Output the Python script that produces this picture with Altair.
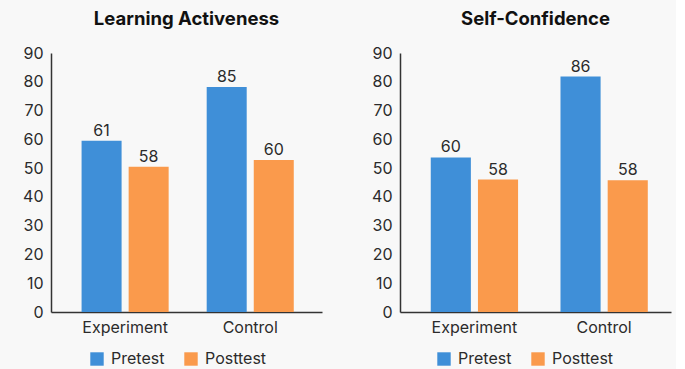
import altair as alt
import pandas as pd

groups = ["Experiment", "Control"]
series = ["Pretest", "Posttest"]
panel_titles = ["Learning Activeness", "Self-Confidence"]

# bar heights as read against the y axis
la_pretest = [59.5, 78.2]
la_posttest = [50.5, 52.8]
sc_pretest = [53.7, 81.8]
sc_posttest = [46.0, 45.8]

# value labels as printed above the bars
la_pretest_labels = ["61", "85"]
la_posttest_labels = ["58", "60"]
sc_pretest_labels = ["60", "86"]
sc_posttest_labels = ["58", "58"]

y_ticks = [0, 10, 20, 30, 40, 50, 60, 70, 80, 90]

BLUE = "#3f8fd8"
ORANGE = "#fa9a4c"
FONT = "Inter"
TXT = "#2b2b2b"


def make_df(pre, post, pre_lab, post_lab):
    rows = []
    for i, g in enumerate(groups):
        rows.append({"group": g, "series": "Pretest", "value": pre[i], "label": pre_lab[i]})
        rows.append({"group": g, "series": "Posttest", "value": post[i], "label": post_lab[i]})
    return pd.DataFrame(rows)


def panel(title, df, pi, po, align, legend_x):
    base = alt.Chart(df, title=alt.TitleParams(
        text=title, fontSize=18.5, fontWeight="bold", font=FONT, color="#111111",
        anchor="middle", offset=17)).encode(
        x=alt.X("group:N", sort=groups,
                scale=alt.Scale(paddingInner=pi, paddingOuter=po, align=align),
                axis=alt.Axis(title=None, labelAngle=0, ticks=False, labelPadding=7,
                              labelFontSize=16, labelFont=FONT, labelColor=TXT,
                              domainColor="#333333", domainWidth=1.5)),
        xOffset=alt.XOffset("series:N", sort=series,
                            scale=alt.Scale(paddingInner=0.15, paddingOuter=0)),
        y=alt.Y("value:Q", scale=alt.Scale(domain=[0, 90], nice=False),
                axis=alt.Axis(title=None, values=y_ticks, ticks=False, grid=False,
                              labelPadding=8, labelFontSize=16, labelFont=FONT,
                              labelColor=TXT, domainColor="#333333", domainWidth=1.5)),
    )
    bars = base.mark_bar().encode(
        color=alt.Color("series:N", sort=series,
                        scale=alt.Scale(domain=series, range=[BLUE, ORANGE]),
                        legend=alt.Legend(title=None, orient="none", direction="horizontal",
                                          legendX=legend_x, legendY=298,
                                          symbolType="square", symbolSize=180,
                                          symbolStrokeWidth=0, symbolOpacity=1,
                                          labelFontSize=16, labelFont=FONT, labelColor=TXT,
                                          columnPadding=18, labelOffset=6, padding=0))
    )
    labels = base.mark_text(baseline="alphabetic", dy=-5, fontSize=16, font=FONT,
                            color=TXT).encode(text="label:N")
    return alt.layer(bars, labels).properties(width=271, height=259)


left = panel(panel_titles[0],
             make_df(la_pretest, la_posttest, la_pretest_labels, la_posttest_labels),
             0.304, 0.235, 0.52, 38)
right = panel(panel_titles[1],
              make_df(sc_pretest, sc_posttest, sc_pretest_labels, sc_posttest_labels),
              0.327, 0.208, 0.57, 36)

chart = alt.hconcat(left, right, spacing=49).resolve_scale(
    color="independent", x="independent", xOffset="independent"
).properties(
    background="#f8f8f8",
    padding={"left": 22, "top": 9, "right": 5, "bottom": 2},
).configure_view(strokeWidth=0)

chart.save("out.html", embed_options={"renderer": "svg", "actions": False})
